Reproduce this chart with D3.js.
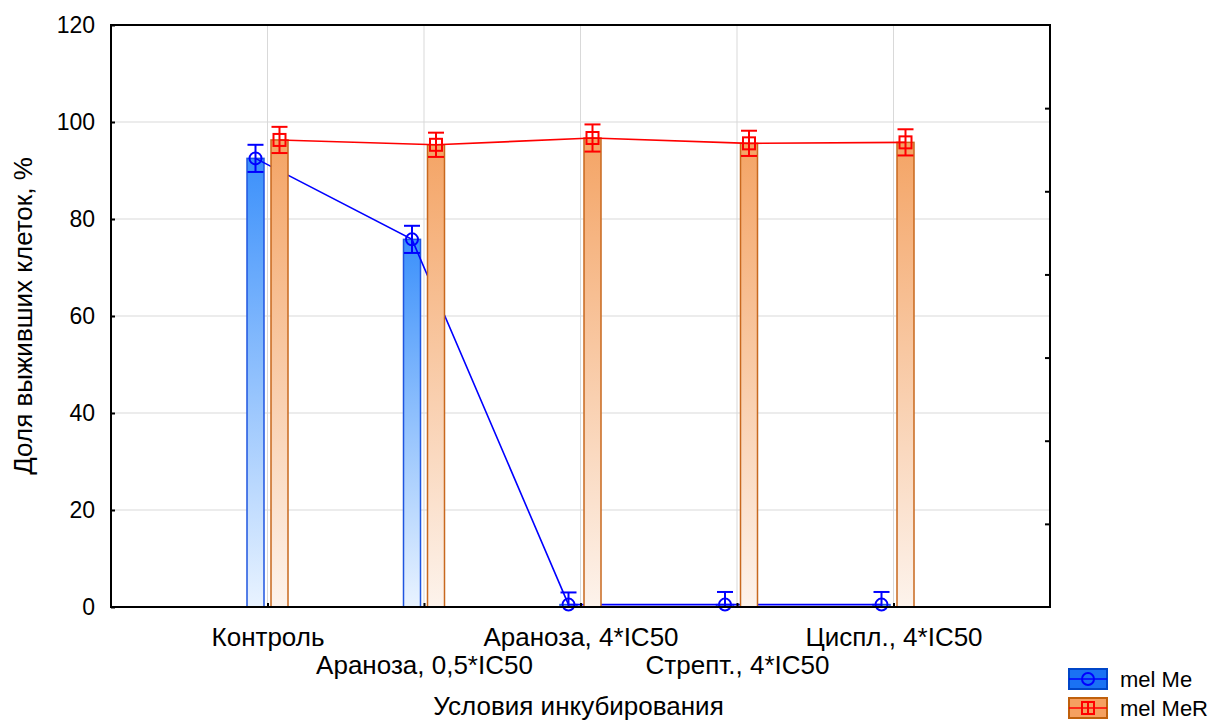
<!DOCTYPE html>
<html>
<head>
<meta charset="utf-8">
<script src="https://cdn.jsdelivr.net/npm/d3@7/dist/d3.min.js"></script>
<style>
  html, body { margin: 0; padding: 0; background: #fff; }
  svg { display: block; }
  text { font-family: Arial, "Liberation Sans", sans-serif; fill: #000; }
</style>
</head>
<body>
<svg id="chart" width="1226" height="722"></svg>
<script>
// Survival of melanoma cells under different incubation conditions
const categories = ["Контроль", "Араноза, 0,5*IC50", "Араноза, 4*IC50", "Стрепт., 4*IC50", "Циспл., 4*IC50"];
const seriesNames = ["mel Me", "mel MeR"];
const melMe = [92.5, 75.8, 0.5, 0.5, 0.5];
const melMeErr = [2.8, 2.8, 2.5, 2.6, 2.6];
const melMeR = [96.3, 95.3, 96.7, 95.6, 95.8];
const melMeRErr = [2.7, 2.5, 2.8, 2.6, 2.7];
const yTicks = [0, 20, 40, 60, 80, 100, 120];
const yTitle = "Доля выживших клеток, %";
const xTitle = "Условия инкубирования";

const svg = d3.select("#chart");
const margin = { left: 111, top: 25, right: 176, bottom: 115 };
const W = 1226 - margin.left - margin.right;
const H = 722 - margin.top - margin.bottom;

const g = svg.append("g").attr("transform", `translate(${margin.left},${margin.top})`);

const x = d3.scalePoint().domain(categories).range([0, W]).padding(1);
const y = d3.scaleLinear().domain([0, 120]).range([H, 0]);
// secondary right-hand scale, unlabeled, split into sevenths
const yRight = d3.scaleLinear().domain([0, 7]).range([H, 0]);

// gradients for the bars
const defs = svg.append("defs");
function grad(id, top, bottom) {
  const lg = defs.append("linearGradient").attr("id", id)
    .attr("x1", 0).attr("y1", 0).attr("x2", 0).attr("y2", 1);
  lg.append("stop").attr("offset", "0%").attr("stop-color", top);
  lg.append("stop").attr("offset", "100%").attr("stop-color", bottom);
}
grad("gBlue", "#3b90fb", "#e9f3ff");
grad("gOrange", "#f4a465", "#fdf3ec");

// grid
g.append("g").selectAll("line").data(yTicks.filter(v => v > 0 && v < 120)).join("line")
  .attr("x1", 0).attr("x2", W).attr("y1", d => y(d)).attr("y2", d => y(d))
  .attr("stroke", "#d9d9d9").attr("stroke-width", 1);
g.append("g").selectAll("line").data(categories).join("line")
  .attr("x1", d => x(d)).attr("x2", d => x(d)).attr("y1", 0).attr("y2", H)
  .attr("stroke", "#d9d9d9").attr("stroke-width", 1);

const barW = 17, gap = 3.5, capHalf = 8;

function drawSeries(vals, errs, side, fillId, barStroke, lineColor, marker) {
  const cx = (d, i) => x(categories[i]) + side * (gap + barW / 2);
  const s = g.append("g");
  s.selectAll("rect").data(vals).join("rect")
    .attr("x", (d, i) => cx(d, i) - barW / 2)
    .attr("width", barW)
    .attr("y", d => y(d))
    .attr("height", d => H - y(d))
    .attr("fill", `url(#${fillId})`)
    .attr("stroke", barStroke).attr("stroke-width", 1.5);

  const line = d3.line().x((d, i) => cx(d, i)).y(d => y(d));
  s.append("path").datum(vals).attr("d", line)
    .attr("fill", "none").attr("stroke", lineColor).attr("stroke-width", 1.6);

  // error bars
  const eb = s.append("g").attr("stroke", lineColor).attr("stroke-width", 2);
  vals.forEach((v, i) => {
    const xc = cx(v, i);
    const lo = Math.max(0, v - errs[i]);
    eb.append("line").attr("x1", xc).attr("x2", xc).attr("y1", y(v + errs[i])).attr("y2", y(lo));
    eb.append("line").attr("x1", xc - capHalf).attr("x2", xc + capHalf).attr("y1", y(v + errs[i])).attr("y2", y(v + errs[i]));
    eb.append("line").attr("x1", xc - capHalf).attr("x2", xc + capHalf).attr("y1", y(lo)).attr("y2", y(lo));
  });

  // markers
  if (marker === "circle") {
    s.selectAll("circle").data(vals).join("circle")
      .attr("cx", (d, i) => cx(d, i)).attr("cy", d => y(d)).attr("r", 6)
      .attr("fill", "none").attr("stroke", lineColor).attr("stroke-width", 2);
  } else {
    s.selectAll("rect.mk").data(vals).join("rect").attr("class", "mk")
      .attr("x", (d, i) => cx(d, i) - 6).attr("y", d => y(d) - 6)
      .attr("width", 12).attr("height", 12)
      .attr("fill", "none").attr("stroke", lineColor).attr("stroke-width", 2);
  }
}

drawSeries(melMe, melMeErr, -1, "gBlue", "#1f55e0", "#0000ff", "circle");
drawSeries(melMeR, melMeRErr, 1, "gOrange", "#c8681e", "#ff0000", "square");

// frame
g.append("rect").attr("x", 0).attr("y", 0).attr("width", W).attr("height", H)
  .attr("fill", "none").attr("stroke", "#000").attr("stroke-width", 2);

// left axis with inward ticks
const yAxis = d3.axisLeft(y).tickValues(yTicks).tickSize(-4).tickPadding(16);
const ya = g.append("g").call(yAxis);
ya.select(".domain").remove();
ya.selectAll(".tick line").attr("stroke", "#000").attr("stroke-width", 2);
ya.selectAll(".tick text").attr("font-size", 23).attr("font-family", "Arial, 'Liberation Sans', sans-serif").attr("fill", "#000");

// right axis: inward ticks only
const yRAxis = d3.axisRight(yRight).tickValues([1, 2, 3, 4, 5, 6]).tickSize(-5).tickFormat("");
const yra = g.append("g").attr("transform", `translate(${W},0)`).call(yRAxis);
yra.select(".domain").remove();
yra.selectAll(".tick line").attr("stroke", "#000").attr("stroke-width", 2);

// bottom axis with inward ticks and staggered labels
const xAxis = d3.axisBottom(x).tickSize(-4).tickFormat("");
const xa = g.append("g").attr("transform", `translate(0,${H})`).call(xAxis);
xa.select(".domain").remove();
xa.selectAll(".tick line").attr("stroke", "#000").attr("stroke-width", 2);
xa.selectAll(".tick").append("text")
  .attr("y", (d, i) => i % 2 === 0 ? 39 : 67)
  .attr("text-anchor", "middle")
  .attr("font-size", 26)
  .attr("fill", "#000")
  .text(d => d);

// axis titles
svg.append("text")
  .attr("transform", `translate(32,${margin.top + H / 2}) rotate(-90)`)
  .attr("text-anchor", "middle").attr("font-size", 26).text(yTitle);
svg.append("text")
  .attr("x", margin.left + W / 2 - 2).attr("y", 715)
  .attr("text-anchor", "middle").attr("font-size", 26).text(xTitle);

// legend
const legend = svg.append("g").attr("transform", "translate(1068,668)");
const legendStyle = [
  { fill: "#1a72f4", stroke: "#0046c8", line: "#0000ff", marker: "circle" },
  { fill: "#f5a060", stroke: "#c0600c", line: "#ff0000", marker: "square" }
];
seriesNames.forEach((name, i) => {
  const st = legendStyle[i];
  const li = legend.append("g").attr("transform", `translate(0,${i * 29})`);
  li.append("rect").attr("x", 1).attr("y", 1).attr("width", 38).attr("height", 20)
    .attr("fill", st.fill).attr("stroke", st.stroke).attr("stroke-width", 2);
  li.append("line").attr("x1", 1).attr("x2", 39).attr("y1", 11).attr("y2", 11)
    .attr("stroke", st.line).attr("stroke-width", 1.6);
  if (st.marker === "circle") {
    li.append("circle").attr("cx", 20).attr("cy", 11).attr("r", 6)
      .attr("fill", "none").attr("stroke", st.line).attr("stroke-width", 2);
  } else {
    li.append("rect").attr("x", 14).attr("y", 5).attr("width", 12).attr("height", 12)
      .attr("fill", "none").attr("stroke", st.line).attr("stroke-width", 2);
    li.append("line").attr("x1", 20).attr("x2", 20).attr("y1", 5).attr("y2", 17)
      .attr("stroke", st.line).attr("stroke-width", 2);
  }
  li.append("text").attr("x", 52).attr("y", 19).attr("font-size", 22).text(name);
});
</script>
</body>
</html>
